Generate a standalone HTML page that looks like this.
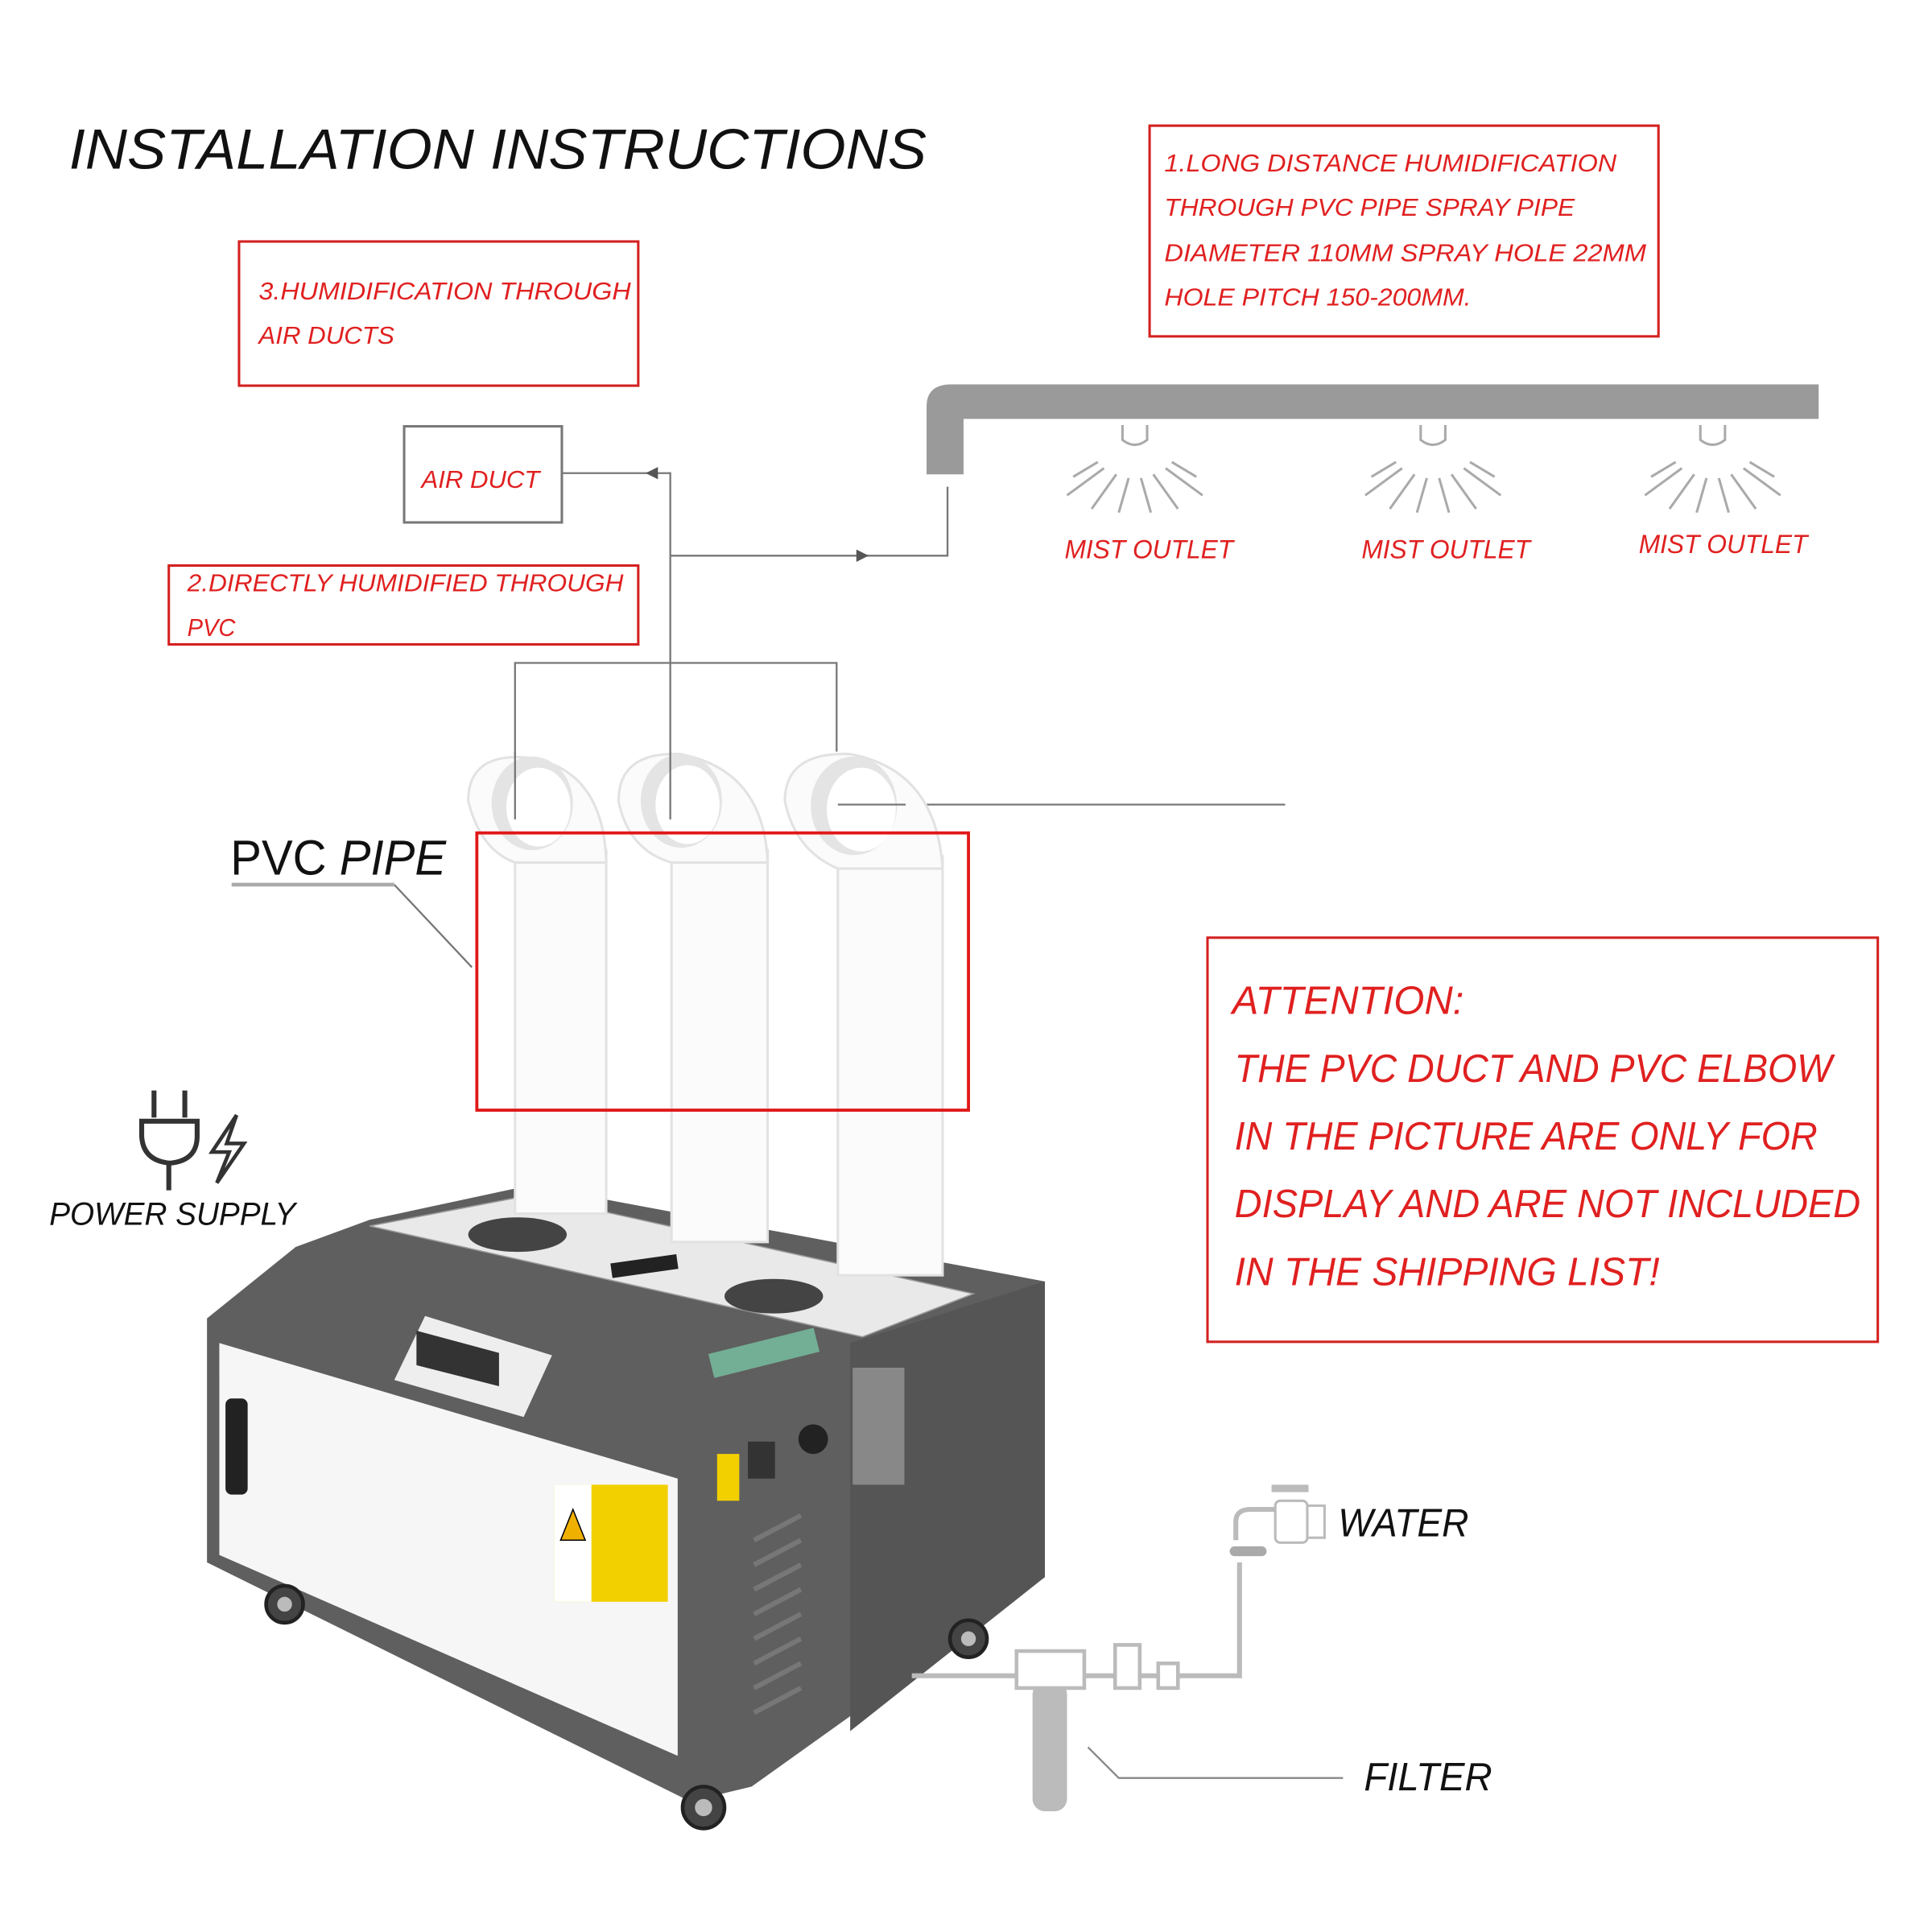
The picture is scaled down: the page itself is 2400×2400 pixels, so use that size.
<!DOCTYPE html>
<html><head><meta charset="utf-8"><style>
html,body{margin:0;padding:0;background:#fff;width:2400px;height:2400px;overflow:hidden}
svg{display:block}
text{font-family:"Liberation Sans","DejaVu Sans",sans-serif;font-style:italic}
.r{fill:#e02020}
</style></head><body>
<svg width="2400" height="2400" viewBox="0 0 1568 1568" xmlns="http://www.w3.org/2000/svg">
<rect width="1568" height="1568" fill="#fff"/>
<text x="56" y="137" font-size="46" fill="#111" textLength="696" lengthAdjust="spacingAndGlyphs">INSTALLATION INSTRUCTIONS</text>

<!-- box 1 -->
<rect x="933" y="102" width="413" height="171" fill="none" stroke="#d42020" stroke-width="2"/>
<g class="r" font-size="20">
<text x="945" y="139" textLength="367" lengthAdjust="spacingAndGlyphs">1.LONG DISTANCE  HUMIDIFICATION</text>
<text x="945" y="175" textLength="333" lengthAdjust="spacingAndGlyphs">THROUGH PVC PIPE   SPRAY PIPE</text>
<text x="945" y="212" textLength="391" lengthAdjust="spacingAndGlyphs">DIAMETER   110MM  SPRAY HOLE 22MM</text>
<text x="945" y="248" textLength="249" lengthAdjust="spacingAndGlyphs">HOLE PITCH 150-200MM.</text>
</g>
<!-- box 3 -->
<rect x="194" y="196" width="324" height="117" fill="none" stroke="#d42020" stroke-width="2"/>
<g class="r" font-size="20">
<text x="210" y="243" textLength="302" lengthAdjust="spacingAndGlyphs">3.HUMIDIFICATION THROUGH</text>
<text x="210" y="279" textLength="110" lengthAdjust="spacingAndGlyphs">AIR DUCTS</text>
</g>
<!-- air duct -->
<rect x="328" y="346" width="128" height="78" fill="none" stroke="#777" stroke-width="2"/>
<text x="342" y="396" font-size="20" class="r" textLength="96" lengthAdjust="spacingAndGlyphs">AIR DUCT</text>
<!-- box 2 -->
<rect x="137" y="459" width="381" height="64" fill="none" stroke="#d42020" stroke-width="2"/>
<g class="r" font-size="20">
<text x="152" y="480" textLength="354" lengthAdjust="spacingAndGlyphs">2.DIRECTLY HUMIDIFIED THROUGH</text>
<text x="152" y="516" textLength="39" lengthAdjust="spacingAndGlyphs">PVC</text>
</g>

<!-- connectors -->
<g stroke="#777" stroke-width="1.5" fill="none">
<path d="M456 384 H544 V665"/>
<path d="M544 451 H769 V395"/>
<path d="M418 665 V538 H679 V610"/>
<path d="M680 653 H1043"/>
<path d="M320 718 L383 785"/>
<path d="M188 718 H320" stroke="#aaa" stroke-width="3"/>
</g>
<path d="M524 384 l10 -5 v10z" fill="#555"/>
<path d="M705 451 l-10 -5 v10z" fill="#555"/>

<!-- spray pipe -->
<path d="M752 385 V330 Q752 312 772 312 H1476 V340 H782 V385 Z" fill="#9a9a9a"/>
<g stroke="#aaa" stroke-width="2" fill="none">
<g transform="translate(921,0)"><path d="M-10 345 v12 q10 8 20 0 v-12"/><path d="M-25 380 l-30 22 M-15 385 l-20 28 M-5 388 l-8 28 M5 388 l8 28 M15 385 l20 28 M25 380 l30 22 M-30 375 l-20 12 M30 375 l20 12"/></g>
<g transform="translate(1163,0)"><path d="M-10 345 v12 q10 8 20 0 v-12"/><path d="M-25 380 l-30 22 M-15 385 l-20 28 M-5 388 l-8 28 M5 388 l8 28 M15 385 l20 28 M25 380 l30 22 M-30 375 l-20 12 M30 375 l20 12"/></g>
<g transform="translate(1390,0)"><path d="M-10 345 v12 q10 8 20 0 v-12"/><path d="M-25 380 l-30 22 M-15 385 l-20 28 M-5 388 l-8 28 M5 388 l8 28 M15 385 l20 28 M25 380 l30 22 M-30 375 l-20 12 M30 375 l20 12"/></g>
</g>
<g class="r" font-size="21">
<text x="864" y="453" textLength="137" lengthAdjust="spacingAndGlyphs">MIST OUTLET</text>
<text x="1105" y="453" textLength="137" lengthAdjust="spacingAndGlyphs">MIST OUTLET</text>
<text x="1330" y="449" textLength="137" lengthAdjust="spacingAndGlyphs">MIST OUTLET</text>
</g>

<!-- machine -->
<polygon points="168,1070 240,1012 300,990 430,962 848,1040 848,1280 610,1450 560,1462 168,1268" fill="#5f5f5f"/>
<polygon points="300,995 430,970 790,1050 700,1085" fill="#e9e9e9" stroke="#999"/>
<polygon points="178,1090 550,1200 550,1425 178,1262" fill="#f6f6f6"/>
<polygon points="690,1090 848,1040 848,1280 690,1405" fill="#555"/>
<polygon points="320,1120 345,1068 448,1100 425,1150" fill="#eee"/>
<polygon points="338,1080 405,1098 405,1125 338,1108" fill="#333"/>
<rect x="183" y="1135" width="18" height="78" rx="5" fill="#222"/>
<rect x="450" y="1205" width="92" height="95" fill="#f2d000"/>
<rect x="450" y="1205" width="30" height="95" fill="#fff"/>
<polygon points="465,1225 455,1250 475,1250" fill="#f0b000" stroke="#000"/>
<rect x="582" y="1180" width="18" height="38" fill="#f2d000"/>
<circle cx="660" cy="1168" r="12" fill="#222"/>
<rect x="607" y="1170" width="22" height="30" fill="#333"/>
<rect x="692" y="1110" width="42" height="95" fill="#888"/>
<g stroke="#777" stroke-width="4"><path d="M612 1250 l38 -20 M612 1270 l38 -20 M612 1290 l38 -20 M612 1310 l38 -20 M612 1330 l38 -20 M612 1350 l38 -20 M612 1370 l38 -20 M612 1390 l38 -20"/></g>
<ellipse cx="420" cy="1002" rx="40" ry="14" fill="#444"/>
<ellipse cx="628" cy="1052" rx="40" ry="14" fill="#444"/>
<rect x="496" y="1022" width="54" height="12" fill="#222" transform="rotate(-8 520 1028)"/>
<rect x="576" y="1088" width="88" height="20" fill="#8fc" opacity=".5" transform="rotate(-14 620 1098)"/>
<g fill="#444" stroke="#222" stroke-width="3">
<circle cx="231" cy="1302" r="15"/><circle cx="571" cy="1467" r="17"/><circle cx="786" cy="1330" r="15"/>
</g>
<g fill="#bbb"><circle cx="231" cy="1302" r="6"/><circle cx="571" cy="1467" r="7"/><circle cx="786" cy="1330" r="6"/></g>

<!-- pipes -->
<g fill="#fbfbfb" stroke="#e2e2e2" stroke-width="2">
<rect x="418" y="690" width="74" height="295"/>
<rect x="545" y="690" width="78" height="318"/>
<rect x="680" y="695" width="85" height="340"/>
<path d="M380 650 Q380 610 430 615 Q490 625 492 700 L418 700 Q390 690 380 650Z"/>
<path d="M502 650 Q502 610 552 612 Q620 625 623 700 L545 700 Q510 690 502 650Z"/>
<path d="M637 650 Q637 610 690 612 Q760 625 765 705 L680 705 Q645 690 637 650Z"/>
</g>
<g fill="#e4e4e4"><ellipse cx="432" cy="652" rx="33" ry="38"/><ellipse cx="553" cy="650" rx="33" ry="38"/><ellipse cx="693" cy="654" rx="35" ry="40"/></g>
<g fill="#fff"><ellipse cx="437" cy="655" rx="26" ry="32"/><ellipse cx="558" cy="653" rx="26" ry="32"/><ellipse cx="699" cy="657" rx="28" ry="34"/></g>
<g stroke="#777" stroke-width="1.5"><path d="M418 610 V665 M544 610 V665 M680 653 H735"/></g>
<rect x="387" y="676" width="399" height="225" fill="none" stroke="#e01818" stroke-width="2.5"/>
<text x="187" y="710" font-size="40" fill="#111" style="font-style:normal" textLength="175" lengthAdjust="spacingAndGlyphs">PVC <tspan font-style="italic">PIPE</tspan></text>

<!-- power -->
<g stroke="#333" stroke-width="4" fill="none">
<path d="M125 885 v22 M150 885 v22 M115 910 h45 v12 q0 20 -22 22 q-22 -2 -23 -22z M137 944 v22"/>
<path d="M192 905 l-20 30 h14 l-10 25 l22 -32 h-14z" stroke-width="3"/>
</g>
<text x="40" y="994" font-size="26" fill="#111" textLength="200" lengthAdjust="spacingAndGlyphs">POWER SUPPLY</text>

<!-- attention -->
<rect x="980" y="761" width="544" height="328" fill="none" stroke="#d42020" stroke-width="2"/>
<g class="r" font-size="32">
<text x="1000" y="823" textLength="188" lengthAdjust="spacingAndGlyphs">ATTENTION:</text>
<text x="1002" y="878" textLength="485" lengthAdjust="spacingAndGlyphs">THE PVC DUCT AND PVC ELBOW</text>
<text x="1002" y="933" textLength="473" lengthAdjust="spacingAndGlyphs">IN THE PICTURE ARE ONLY FOR</text>
<text x="1002" y="988" textLength="508" lengthAdjust="spacingAndGlyphs">DISPLAY AND ARE NOT INCLUDED</text>
<text x="1002" y="1043" textLength="345" lengthAdjust="spacingAndGlyphs">IN THE SHIPPING LIST!</text>
</g>

<!-- water / filter -->
<g fill="none" stroke="#bbb" stroke-width="4">
<path d="M1006 1268 V1360 H740"/>
<path d="M1003 1250 v-15 q0 -10 12 -10 h20"/>
</g>
<rect x="1035" y="1218" width="26" height="34" rx="4" fill="#fff" stroke="#bbb" stroke-width="2"/>
<rect x="1061" y="1222" width="14" height="26" fill="#fff" stroke="#bbb" stroke-width="2"/>
<rect x="1032" y="1205" width="30" height="6" fill="#bbb"/>
<rect x="998" y="1255" width="30" height="8" rx="4" fill="#aaa"/>
<rect x="838" y="1365" width="28" height="105" rx="10" fill="#bbb"/>
<rect x="825" y="1340" width="55" height="30" fill="#fff" stroke="#bbb" stroke-width="3"/>
<rect x="905" y="1335" width="20" height="35" fill="#fff" stroke="#bbb" stroke-width="3"/>
<rect x="940" y="1350" width="16" height="20" fill="#fff" stroke="#bbb" stroke-width="3"/>
<path d="M883 1418 l25 25 H1090" stroke="#888" stroke-width="1.5" fill="none"/>
<text x="1086" y="1247" font-size="32" fill="#111" textLength="106" lengthAdjust="spacingAndGlyphs">WATER</text>
<text x="1107" y="1453" font-size="32" fill="#111" textLength="104" lengthAdjust="spacingAndGlyphs">FILTER</text>
</svg>
</body></html>
